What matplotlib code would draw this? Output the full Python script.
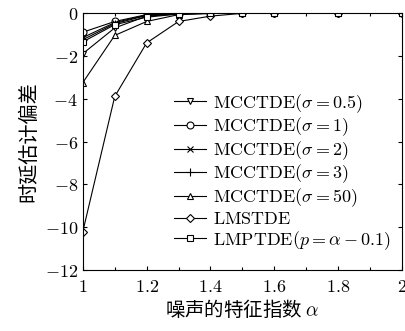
import numpy as np
import matplotlib
matplotlib.use("Agg")
import matplotlib.pyplot as plt
from matplotlib.ticker import FuncFormatter

plt.rcParams['mathtext.fontset'] = 'cm'
plt.rcParams['font.family'] = ['DejaVu Serif']

# data
alpha = [1.0, 1.1, 1.2, 1.3, 1.4, 1.5, 1.6, 1.8, 2.0]
mcc_05 = [-1.9, -0.7, -0.15, -0.05, -0.02, 0, 0, 0, 0]
mcc_1 = [-0.9, -0.4, -0.08, -0.03, -0.01, 0, 0, 0, 0]
mcc_2 = [-1.15, -0.45, -0.1, -0.03, -0.01, 0, 0, 0, 0]
mcc_3 = [-1.25, -0.5, -0.12, -0.03, -0.01, 0, 0, 0, 0]
mcc_50 = [-3.25, -1.05, -0.4, -0.08, -0.03, 0, 0, 0, 0]
lmstde = [-10.2, -3.9, -1.4, -0.4, -0.15, -0.02, 0, 0, 0]
lmptde = [-1.35, -0.55, -0.2, -0.05, -0.01, 0, 0, 0, 0]

labels = [r'$\mathrm{MCCTDE}(\sigma=0.5)$', r'$\mathrm{MCCTDE}(\sigma=1)$',
          r'$\mathrm{MCCTDE}(\sigma=2)$', r'$\mathrm{MCCTDE}(\sigma=3)$',
          r'$\mathrm{MCCTDE}(\sigma=50)$', r'$\mathrm{LMSTDE}$',
          r'$\mathrm{LMPTDE}(p=\alpha-0.1)$']
series = [mcc_05, mcc_1, mcc_2, mcc_3, mcc_50, lmstde, lmptde]
markers = ['v', 'o', 'x', '+', '^', 'D', 's']
sizes = [5, 5, 5, 6, 5, 4, 5]

fig = plt.figure(figsize=(4.06, 3.31), dpi=100)
ax = fig.add_axes([0.204, 0.184, 0.786, 0.777])

for ys, m, lab, ms in zip(series, markers, labels, sizes):
    ax.plot(alpha, ys, color='black', linewidth=0.8, marker=m, markersize=ms,
            markerfacecolor='white', markeredgecolor='black', markeredgewidth=0.8,
            label=lab)

ax.set_xlim(1, 2)
ax.set_ylim(-12, 0)
ax.set_xticks([1, 1.2, 1.4, 1.6, 1.8, 2])
ax.set_xticks(np.arange(1, 2.01, 0.1), minor=True)
ax.set_yticks(np.arange(-12, 1, 2))
ax.xaxis.set_major_formatter(FuncFormatter(lambda v, p: r'$%g$' % v))
ax.yaxis.set_major_formatter(FuncFormatter(lambda v, p: r'$%d$' % v))
ax.tick_params(which='both', direction='in', top=True, right=True, labelsize=13, width=0.8)
ax.tick_params(which='major', length=3)
ax.tick_params(which='minor', length=2)
ax.tick_params(axis='x', pad=6)
for s in ax.spines.values():
    s.set_linewidth(0.8)

ax.set_xlabel(r'噪声的特征指数 $\alpha$', family=['Noto Sans CJK SC'], fontsize=14, labelpad=2)
ax.set_ylabel('时延估计偏差', family=['Noto Sans CJK SC'], fontsize=14.5, labelpad=4)

ax.legend(loc='lower right', bbox_to_anchor=(1.0, 0.03), frameon=False, fontsize=13,
          handlelength=1.8, handletextpad=0.4, labelspacing=0.05, borderaxespad=0.2)

fig.savefig('out.png', dpi=100)
